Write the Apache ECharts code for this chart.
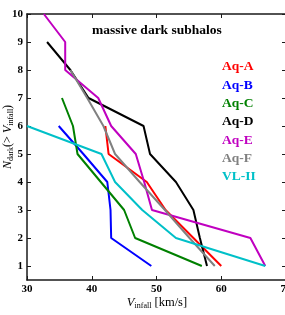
<!DOCTYPE html>
<html>
<head>
<meta charset="utf-8">
<script src="https://cdn.jsdelivr.net/npm/echarts@6/dist/echarts.min.js"></script>
<style>
html,body{margin:0;padding:0;background:#fff;}
#chart{width:285px;height:315px;}
</style>
</head>
<body>
<div id="chart"></div>
<script>
// ---- data ----
const titleText = 'massive dark subhalos';
const seriesNames = ['Aq-A', 'Aq-B', 'Aq-C', 'Aq-D', 'Aq-E', 'Aq-F', 'VL-II'];
const seriesColors = ['#ff0000', '#0000ff', '#008000', '#000000', '#c000c0', '#808080', '#00c0c8'];

const nAqA = [6, 5, 4, 3, 2, 1];
const vAqA = [42.1, 42.6, 48.5, 51.4, 55.7, 60.0];

const nAqB = [6, 5, 4, 3, 2, 1];
const vAqB = [34.9, 38.7, 42.4, 42.9, 43.0, 49.2];

const nAqC = [7, 6, 5, 4, 3, 2, 1];
const vAqC = [35.4, 37.1, 37.8, 41.4, 45.0, 46.7, 57.0];

const nAqD = [9, 8, 7, 6, 5, 4, 3, 2, 1];
const vAqD = [33.1, 36.7, 39.5, 48.0, 49.0, 53.0, 55.7, 56.7, 57.8];

const nAqE = [10, 9, 8, 7, 6, 5, 4, 3, 2, 1];
const vAqE = [32.6, 35.9, 35.9, 41.0, 43.0, 46.8, 48.1, 49.3, 64.5, 66.8];

const nAqF = [8, 7, 6, 5, 4, 3, 2, 1];
const vAqF = [36.7, 39.3, 41.8, 43.6, 47.4, 51.3, 55.1, 59.0];

const nVL2 = [6, 5, 4, 3, 2, 1];
const vVL2 = [30.0, 41.5, 43.6, 47.8, 53.0, 66.8];

const xTicks = [30, 40, 50, 60, 70];
const yTicks = [1, 2, 3, 4, 5, 6, 7, 8, 9, 10];

const allN = [nAqA, nAqB, nAqC, nAqD, nAqE, nAqF, nVL2];
const allV = [vAqA, vAqB, vAqC, vAqD, vAqE, vAqF, vVL2];

// ---- chart ----
const chart = echarts.init(document.getElementById('chart'), null, {renderer: 'canvas'});
const serif = '"Liberation Serif", "DejaVu Serif", serif';
const frameColor = '#1a1a1a';

const series = seriesNames.map((name, i) => ({
  name: name,
  type: 'line',
  data: allV[i].map((v, k) => [v, allN[i][k]]),
  symbol: 'none',
  lineStyle: {color: seriesColors[i], width: 2},
  itemStyle: {color: seriesColors[i]},
  animation: false,
  z: 2 + i
}));

const option = {
  animation: false,
  backgroundColor: '#ffffff',
  grid: {left: 27, right: -1, top: 14, bottom: 35, containLabel: false, outerBoundsMode: 'none'},
  title: {
    text: titleText,
    left: 92,
    top: 24,
    padding: 0,
    textStyle: {fontFamily: serif, fontWeight: 'bold', fontSize: 13.5, color: '#000'}
  },
  legend: {
    orient: 'vertical',
    left: 217,
    top: 60,
    padding: 0,
    itemWidth: 0,
    itemHeight: 0,
    itemGap: 4.3,
    selectedMode: false,
    icon: 'rect',
    textStyle: {fontFamily: serif, fontWeight: 'bold', fontSize: 13.5, lineHeight: 14},
    data: seriesNames.map((name, i) => ({name: name, textStyle: {color: seriesColors[i]}}))
  },
  xAxis: [
    {
      type: 'value', position: 'bottom', min: xTicks[0], max: xTicks[xTicks.length - 1], interval: 10,
      axisLine: {show: true, lineStyle: {color: frameColor, width: 1.5}},
      axisTick: {show: true, inside: true, length: 4, lineStyle: {color: frameColor, width: 1}},
      axisLabel: {show: true, margin: 4, fontFamily: serif, fontWeight: 'bold', fontSize: 11, color: '#000'},
      splitLine: {show: false}
    },
    {
      type: 'value', position: 'top', min: xTicks[0], max: xTicks[xTicks.length - 1], interval: 10,
      axisLine: {show: true, lineStyle: {color: frameColor, width: 1.5}},
      axisTick: {show: true, inside: true, length: 4, lineStyle: {color: frameColor, width: 1}},
      axisLabel: {show: false},
      splitLine: {show: false}
    }
  ],
  yAxis: [
    {
      type: 'value', position: 'left', min: 0.5, max: 10,
      axisLine: {show: true, lineStyle: {color: frameColor, width: 1.5}},
      axisTick: {show: true, inside: true, length: 4, customValues: yTicks, lineStyle: {color: frameColor, width: 1}},
      axisLabel: {show: true, margin: 4, customValues: yTicks, fontFamily: serif, fontWeight: 'bold', fontSize: 11, color: '#000'},
      splitLine: {show: false}
    },
    {
      type: 'value', position: 'right', min: 0.5, max: 10,
      axisLine: {show: true, lineStyle: {color: frameColor, width: 1.5}},
      axisTick: {show: true, inside: true, length: 4, customValues: yTicks, lineStyle: {color: frameColor, width: 1}},
      axisLabel: {show: false},
      splitLine: {show: false}
    }
  ],
  graphic: [
    {
      type: 'text',
      x: 157, y: 303,
      style: {
        text: '{i|V}{s|infall}{r| [km/s]}',
        align: 'center', verticalAlign: 'middle',
        rich: {
          i: {fontFamily: serif, fontStyle: 'italic', fontSize: 12.5, lineHeight: 14, fill: '#000'},
          s: {fontFamily: serif, fontSize: 8, lineHeight: 9, verticalAlign: 'bottom', fill: '#000'},
          r: {fontFamily: serif, fontSize: 12.5, lineHeight: 14, fill: '#000'}
        }
      }
    },
    {
      type: 'text',
      x: 8, y: 137,
      rotation: Math.PI / 2,
      style: {
        text: '{i|N}{s|dark}{r|(> }{i|V}{s|infall}{r|)}',
        align: 'center', verticalAlign: 'middle',
        rich: {
          i: {fontFamily: serif, fontStyle: 'italic', fontSize: 12, lineHeight: 14, fill: '#000'},
          s: {fontFamily: serif, fontSize: 8, lineHeight: 9, verticalAlign: 'bottom', fill: '#000'},
          r: {fontFamily: serif, fontSize: 12, lineHeight: 14, fill: '#000'}
        }
      }
    }
  ],
  series: series
};
chart.setOption(option);
</script>
</body>
</html>
